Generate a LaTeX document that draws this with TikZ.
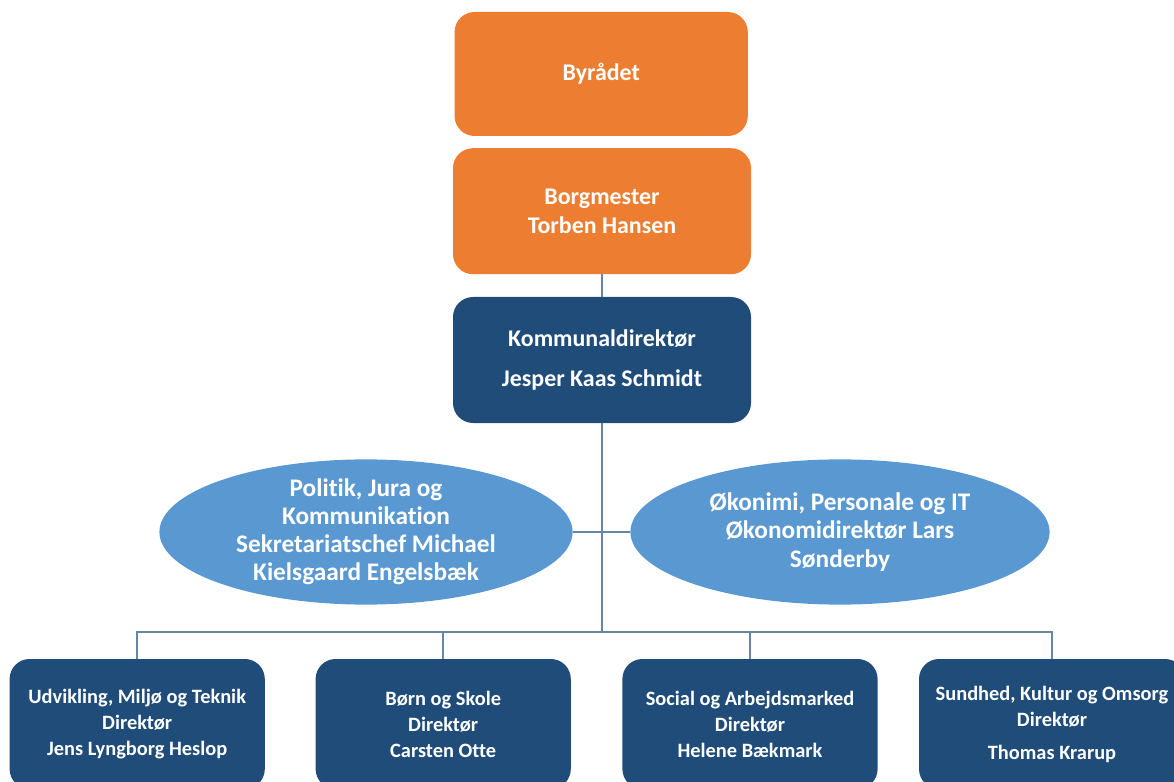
\documentclass[tikz,border=0pt]{standalone}
\usepackage{fontspec}
\setmainfont{Carlito}[Ligatures=NoCommon]
\usetikzlibrary{shapes.geometric, positioning}

\definecolor{orgorange}{RGB}{237,125,49}
\definecolor{orgdark}{RGB}{31,76,121}
\definecolor{orglight}{RGB}{90,152,210}
\definecolor{orgline}{RGB}{104,134,163}

\begin{document}
\begin{tikzpicture}[
  topbox/.style={rectangle, rounded corners=0.5cm, minimum width=7.45cm, minimum height=3.15cm,
    text=white, align=center, font=\bfseries\fontsize{17}{21}\selectfont},
  orangebox/.style={topbox, fill=orgorange},
  chiefbox/.style={topbox, fill=orgdark, font=\bfseries\fontsize{17}{28.5}\selectfont},
  staffell/.style={ellipse, fill=orglight, minimum height=3.63cm, inner xsep=0pt, inner ysep=-0.9cm,
    text=white, align=center, font=\bfseries\fontsize{18}{20}\selectfont},
  unitbox/.style={rectangle, rounded corners=0.5cm, fill=orgdark, minimum width=6.38cm, minimum height=3.25cm,
    text=white, align=center, font=\bfseries\fontsize{14.5}{18.5}\selectfont},
  conn/.style={draw=orgline, line width=1.4pt}
]
\useasboundingbox (0,0) rectangle (29.35,-19.55);

\node (byraad) [orangebox, minimum width=7.33cm, minimum height=3.1cm] at (15.03,-1.85) {Byrådet};
\node (borgm) [orangebox] at (15.05,-5.28) {Borgmester\\Torben Hansen};
\node (kdir) [chiefbox] at (15.05,-9.0) {Kommunaldirektør\\Jesper Kaas Schmidt};

\node (polit) [staffell, minimum width=10.33cm] at (9.15,-13.3)
  {Politik, Jura og\\Kommunikation\\Sekretariatschef Michael\\Kielsgaard Engelsbæk};
\node (oekon) [staffell, minimum width=10.48cm] at (21.0,-13.3)
  {Økonimi, Personale og IT\\Økonomidirektør Lars\\Sønderby};

\node (udv) [unitbox] at (3.43,-18.1) {Udvikling, Miljø og Teknik\\Direktør\\Jens Lyngborg Heslop};
\node (born) [unitbox] at (11.08,-18.1) {Børn og Skole\\Direktør\\Carsten Otte};
\node (soc) [unitbox] at (18.75,-18.1) {Social og Arbejdsmarked\\Direktør\\Helene Bækmark};
\node (sund) [unitbox, minimum width=6.65cm] at (26.3,-18.1) {Sundhed, Kultur og Omsorg\\Direktør\\[5pt]Thomas Krarup};

\coordinate (bus) at (15.05,-15.8);

%Lines:
\draw [conn] (borgm) -- (kdir);
\draw [conn] (kdir) -- (bus);
\draw [conn] (polit) -- (oekon);
\foreach \u in {udv, born, soc, sund}
  \draw [conn] (bus) -| (\u.north);
\end{tikzpicture}
\end{document}
